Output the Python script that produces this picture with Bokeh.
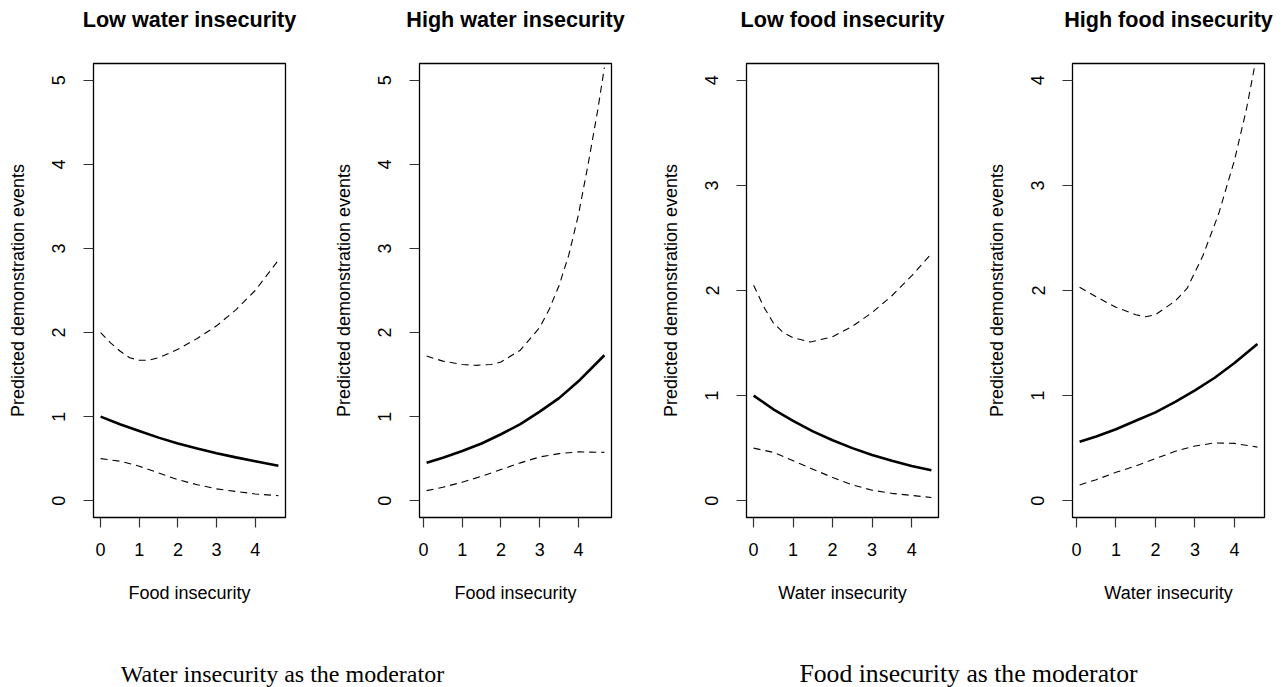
from bokeh.plotting import figure
from bokeh.models import Range1d, FixedTicker, Label
from bokeh.layouts import row, column
from bokeh.embed import file_html
from bokeh.resources import INLINE

# ---------------- data ----------------
panel_titles = ["Low water insecurity", "High water insecurity",
                "Low food insecurity", "High food insecurity"]
x_labels = ["Food insecurity", "Food insecurity",
            "Water insecurity", "Water insecurity"]
y_label = "Predicted demonstration events"
captions = ["Water insecurity as the moderator", "Food insecurity as the moderator"]

x_ticks = [0, 1, 2, 3, 4]
y_ticks_water = [0, 1, 2, 3, 4, 5]
y_ticks_food = [0, 1, 2, 3, 4]

# Panel 1: low water insecurity
lw_fit_x = [0, 0.5, 1, 1.5, 2, 2.5, 3, 3.5, 4, 4.6]
lw_fit_y = [1.0, 0.91, 0.83, 0.75, 0.68, 0.62, 0.565, 0.515, 0.47, 0.415]
lw_upper_x = [0, 0.25, 0.5, 0.75, 1.0, 1.25, 1.5, 2.0, 2.5, 3.0, 3.5, 4.0, 4.6]
lw_upper_y = [2.0, 1.88, 1.78, 1.70, 1.67, 1.67, 1.70, 1.80, 1.93, 2.08, 2.27, 2.50, 2.86]
lw_lower_x = [0, 0.5, 1, 1.5, 2, 2.5, 3, 3.5, 4, 4.6]
lw_lower_y = [0.50, 0.47, 0.41, 0.33, 0.25, 0.19, 0.14, 0.11, 0.08, 0.06]

# Panel 2: high water insecurity
hw_fit_x = [0.08, 0.5, 1, 1.5, 2, 2.5, 3, 3.5, 4, 4.67]
hw_fit_y = [0.45, 0.51, 0.59, 0.68, 0.79, 0.91, 1.06, 1.22, 1.42, 1.73]
hw_upper_x = [0.08, 0.5, 1.0, 1.35, 1.75, 2.0, 2.5, 3.0, 3.25, 3.5, 3.75, 4.0, 4.25, 4.5, 4.67]
hw_upper_y = [1.72, 1.66, 1.62, 1.61, 1.62, 1.65, 1.79, 2.06, 2.28, 2.56, 2.92, 3.40, 4.00, 4.65, 5.15]
hw_lower_x = [0.08, 0.5, 1, 1.5, 2, 2.5, 3, 3.5, 4, 4.67]
hw_lower_y = [0.12, 0.16, 0.22, 0.29, 0.37, 0.45, 0.52, 0.56, 0.58, 0.575]

# Panel 3: low food insecurity
lf_fit_x = [0, 0.5, 1, 1.5, 2, 2.5, 3, 3.5, 4, 4.5]
lf_fit_y = [1.0, 0.87, 0.76, 0.66, 0.575, 0.50, 0.435, 0.38, 0.33, 0.29]
lf_upper_x = [0, 0.25, 0.5, 0.75, 1.0, 1.44, 2.0, 2.5, 3.0, 3.5, 4.0, 4.5]
lf_upper_y = [2.05, 1.85, 1.69, 1.60, 1.55, 1.51, 1.56, 1.66, 1.79, 1.95, 2.14, 2.35]
lf_lower_x = [0, 0.5, 1, 1.5, 2, 2.5, 3, 3.5, 4, 4.5]
lf_lower_y = [0.50, 0.46, 0.38, 0.30, 0.22, 0.15, 0.10, 0.07, 0.05, 0.03]

# Panel 4: high food insecurity
hf_fit_x = [0.08, 0.5, 1, 1.5, 2, 2.5, 3, 3.5, 4, 4.58]
hf_fit_y = [0.56, 0.61, 0.68, 0.76, 0.84, 0.94, 1.05, 1.17, 1.31, 1.49]
hf_upper_x = [0.08, 0.5, 1.0, 1.5, 1.75, 2.0, 2.5, 2.8, 3.2, 3.6, 4.0, 4.3, 4.58]
hf_upper_y = [2.03, 1.94, 1.84, 1.77, 1.75, 1.77, 1.90, 2.02, 2.33, 2.73, 3.24, 3.72, 4.27]
hf_lower_x = [0.08, 0.5, 1, 1.5, 2, 2.5, 3, 3.5, 4, 4.58]
hf_lower_y = [0.15, 0.20, 0.27, 0.33, 0.40, 0.47, 0.52, 0.55, 0.545, 0.51]

# axis ranges (R style 4% padding)
x_ranges = [(-0.184, 4.784), (-0.104, 4.854), (-0.18, 4.68), (-0.10, 4.76)]
y_ranges = [(-0.2, 5.2), (-0.2, 5.2), (-0.16, 4.16), (-0.16, 4.16)]

SANS = "Liberation Sans"
SERIF = "Liberation Serif"
DASH = "7 5"
HEADER_H = 44


def make_panel(i, fit, upper, lower, yticks, width, bl, br):
    p = figure(width=width, height=620 - HEADER_H,
               x_range=Range1d(*x_ranges[i]), y_range=Range1d(*y_ranges[i]),
               output_backend="svg", toolbar_location=None,
               min_border_left=bl, min_border_right=br,
               min_border_top=63 - HEADER_H, min_border_bottom=103)
    p.background_fill_color = "white"
    p.border_fill_color = "white"
    p.outline_line_color = "black"
    p.outline_line_width = 1.3
    p.outline_line_alpha = 1.0
    p.xgrid.visible = False
    p.ygrid.visible = False

    for ax in (p.xaxis[0], p.yaxis[0]):
        ax.axis_line_color = None
        ax.major_tick_in = 0
        ax.major_tick_out = 10
        ax.major_tick_line_color = "#333333"
        ax.major_tick_line_width = 1.2
        ax.minor_tick_line_color = None
        ax.major_label_text_font = SANS
        ax.major_label_text_font_size = "18px"
        ax.major_label_text_color = "black"
        ax.axis_label_text_font = SANS
        ax.axis_label_text_font_size = "18px"
        ax.axis_label_text_font_style = "normal"
        ax.axis_label_text_color = "black"

    p.xaxis.ticker = FixedTicker(ticks=x_ticks)
    p.yaxis.ticker = FixedTicker(ticks=yticks)
    p.xaxis.axis_label = x_labels[i]
    p.yaxis.axis_label = y_label
    p.xaxis.major_label_standoff = 15
    p.xaxis.axis_label_standoff = 24
    p.yaxis.major_label_orientation = "vertical"
    p.yaxis.major_label_standoff = 18
    p.yaxis.axis_label_standoff = 22

    p.line(fit[0], fit[1], line_color="black", line_width=2.6)
    p.line(upper[0], upper[1], line_color="black", line_width=1.1, line_dash=DASH)
    p.line(lower[0], lower[1], line_color="black", line_width=1.1, line_dash=DASH)
    return p


f1 = make_panel(0, (lw_fit_x, lw_fit_y), (lw_upper_x, lw_upper_y), (lw_lower_x, lw_lower_y),
                y_ticks_water, 326, 93, 41)
f2 = make_panel(1, (hw_fit_x, hw_fit_y), (hw_upper_x, hw_upper_y), (hw_lower_x, hw_lower_y),
                y_ticks_water, 326, 93, 41)
f3 = make_panel(2, (lf_fit_x, lf_fit_y), (lf_upper_x, lf_upper_y), (lf_lower_x, lf_lower_y),
                y_ticks_food, 326, 94, 40)
f4 = make_panel(3, (hf_fit_x, hf_fit_y), (hf_upper_x, hf_upper_y), (hf_lower_x, hf_lower_y),
                y_ticks_food, 300, 94, 14)


def text_strip(height):
    s = figure(width=1278, height=height, x_range=Range1d(0, 1278), y_range=Range1d(0, height),
               x_axis_type=None, y_axis_type=None,
               output_backend="svg", toolbar_location=None, min_border=0)
    s.outline_line_color = None
    s.background_fill_color = "white"
    s.border_fill_color = "white"
    return s


# header with the four panel titles, centred over each plot box
header = text_strip(HEADER_H)
title_centres = [189, 515, 842, 1168]
for cx, t in zip(title_centres, panel_titles):
    header.add_layout(Label(x=cx, y=25, text=t, text_font=SANS, text_font_style="bold",
                            text_font_size="21.6px", text_align="center",
                            text_baseline="middle", text_color="black"))

# footer captions
cap = text_strip(67)
cap.add_layout(Label(x=282, y=14, text=captions[0],
                     text_font=SERIF, text_font_size="24px", text_align="center",
                     text_baseline="alphabetic", text_color="black"))
cap.add_layout(Label(x=968, y=14, text=captions[1],
                     text_font=SERIF, text_font_size="25.7px", text_align="center",
                     text_baseline="alphabetic", text_color="black"))

layout = column(header, row(f1, f2, f3, f4), cap)

open("out.html", "w").write(file_html(layout, INLINE))
